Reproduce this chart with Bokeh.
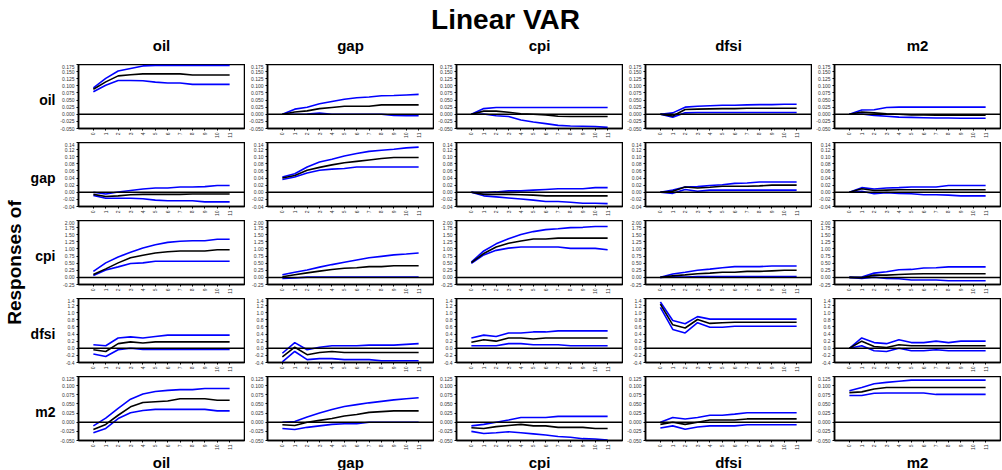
import numpy as np
from bokeh.plotting import figure
from bokeh.layouts import row, column
from bokeh.models import Span, FixedTicker, NumeralTickFormatter, Label, Range1d
from bokeh.embed import file_html
from bokeh.resources import INLINE

horizon = list(range(12))
variables = ["oil", "gap", "cpi", "dfsi", "m2"]
title_text = "Linear VAR"
side_text = "Responses of"

# ---- responses of oil (name: response_shock_band) ----
oil_oil_lo = [0.079, 0.102, 0.119, 0.119, 0.118, 0.113, 0.110, 0.110, 0.105, 0.105, 0.105, 0.105]
oil_oil_md = [0.088, 0.114, 0.135, 0.139, 0.142, 0.142, 0.142, 0.142, 0.138, 0.138, 0.138, 0.138]
oil_oil_hi = [0.093, 0.126, 0.152, 0.161, 0.170, 0.172, 0.172, 0.172, 0.172, 0.172, 0.172, 0.172]
oil_gap_lo = [0.0, 0.0, 0.001, 0.004, 0.0, 0.0, 0.0, 0.0, 0.0, -0.004, -0.005, -0.005]
oil_gap_md = [0.0, 0.008, 0.012, 0.020, 0.024, 0.028, 0.028, 0.028, 0.033, 0.033, 0.033, 0.033]
oil_gap_hi = [0.0, 0.018, 0.025, 0.037, 0.045, 0.053, 0.058, 0.061, 0.065, 0.066, 0.068, 0.070]
oil_cpi_lo = [0.0, 0.001, -0.005, -0.008, -0.020, -0.027, -0.033, -0.039, -0.041, -0.042, -0.043, -0.046]
oil_cpi_md = [0.0, 0.011, 0.011, 0.007, 0.002, 0.0, -0.002, -0.007, -0.008, -0.008, -0.008, -0.008]
oil_cpi_hi = [0.0, 0.020, 0.024, 0.024, 0.024, 0.024, 0.024, 0.024, 0.024, 0.024, 0.024, 0.024]
oil_dfsi_lo = [0.0, -0.010, 0.005, 0.006, 0.006, 0.006, 0.006, 0.006, 0.006, 0.006, 0.006, 0.006]
oil_dfsi_md = [0.0, -0.006, 0.017, 0.018, 0.019, 0.020, 0.020, 0.021, 0.021, 0.021, 0.021, 0.021]
oil_dfsi_hi = [0.0, 0.005, 0.025, 0.028, 0.030, 0.032, 0.032, 0.033, 0.034, 0.034, 0.035, 0.035]
oil_m2_lo = [0.0, 0.001, -0.004, -0.007, -0.010, -0.011, -0.012, -0.013, -0.013, -0.014, -0.014, -0.014]
oil_m2_md = [0.0, 0.008, 0.005, 0.002, 0.0, -0.002, -0.002, -0.003, -0.003, -0.003, -0.003, -0.003]
oil_m2_hi = [0.0, 0.015, 0.016, 0.024, 0.025, 0.025, 0.025, 0.025, 0.025, 0.025, 0.025, 0.025]

# ---- responses of gap ----
gap_oil_lo = [-0.009, -0.017, -0.017, -0.017, -0.018, -0.022, -0.024, -0.024, -0.024, -0.027, -0.027, -0.027]
gap_oil_md = [-0.006, -0.012, -0.010, -0.007, -0.006, -0.006, -0.006, -0.006, -0.005, -0.005, -0.005, -0.005]
gap_oil_hi = [0.0, -0.005, 0.001, 0.005, 0.009, 0.012, 0.012, 0.015, 0.015, 0.016, 0.019, 0.019]
gap_gap_lo = [0.036, 0.043, 0.054, 0.062, 0.065, 0.067, 0.071, 0.071, 0.071, 0.071, 0.071, 0.071]
gap_gap_md = [0.040, 0.047, 0.062, 0.070, 0.077, 0.083, 0.087, 0.091, 0.095, 0.098, 0.098, 0.098]
gap_gap_hi = [0.043, 0.052, 0.071, 0.085, 0.093, 0.102, 0.109, 0.115, 0.118, 0.121, 0.125, 0.127]
gap_cpi_lo = [0.0, -0.010, -0.013, -0.016, -0.019, -0.022, -0.026, -0.026, -0.028, -0.031, -0.031, -0.032]
gap_cpi_md = [0.0, -0.006, -0.006, -0.006, -0.007, -0.008, -0.010, -0.010, -0.010, -0.010, -0.010, -0.010]
gap_cpi_hi = [0.0, -0.001, 0.001, 0.004, 0.004, 0.006, 0.008, 0.010, 0.010, 0.010, 0.013, 0.013]
gap_dfsi_lo = [0.0, -0.003, 0.008, 0.003, 0.006, 0.006, 0.006, 0.006, 0.006, 0.006, 0.006, 0.006]
gap_dfsi_md = [0.0, 0.003, 0.015, 0.012, 0.014, 0.017, 0.017, 0.017, 0.018, 0.020, 0.020, 0.020]
gap_dfsi_hi = [0.0, 0.006, 0.015, 0.016, 0.019, 0.021, 0.025, 0.026, 0.029, 0.029, 0.029, 0.029]
gap_m2_lo = [0.0, 0.003, -0.004, -0.001, -0.003, -0.004, -0.007, -0.007, -0.008, -0.010, -0.010, -0.010]
gap_m2_md = [0.0, 0.010, 0.005, 0.006, 0.007, 0.007, 0.007, 0.007, 0.007, 0.007, 0.007, 0.007]
gap_m2_hi = [0.0, 0.013, 0.009, 0.012, 0.013, 0.015, 0.015, 0.015, 0.019, 0.019, 0.019, 0.019]

# ---- responses of cpi ----
cpi_oil_lo = [0.07, 0.26, 0.37, 0.49, 0.51, 0.57, 0.57, 0.57, 0.57, 0.57, 0.57, 0.57]
cpi_oil_md = [0.10, 0.30, 0.51, 0.69, 0.78, 0.86, 0.90, 0.93, 0.93, 0.93, 0.97, 0.97]
cpi_oil_hi = [0.21, 0.51, 0.72, 0.88, 1.03, 1.15, 1.23, 1.27, 1.29, 1.29, 1.34, 1.34]
cpi_gap_lo = [-0.04, -0.02, 0.01, 0.01, 0.01, 0.01, 0.01, 0.01, 0.01, 0.01, 0.01, 0.01]
cpi_gap_md = [0.02, 0.09, 0.16, 0.22, 0.28, 0.32, 0.34, 0.38, 0.38, 0.41, 0.41, 0.41]
cpi_gap_hi = [0.09, 0.18, 0.26, 0.36, 0.45, 0.53, 0.61, 0.69, 0.74, 0.79, 0.82, 0.86]
cpi_cpi_lo = [0.49, 0.79, 0.95, 1.03, 1.07, 1.07, 1.07, 1.07, 1.02, 1.02, 1.02, 0.97]
cpi_cpi_md = [0.52, 0.84, 1.07, 1.20, 1.28, 1.35, 1.35, 1.38, 1.38, 1.38, 1.38, 1.38]
cpi_cpi_hi = [0.54, 0.93, 1.18, 1.36, 1.51, 1.61, 1.68, 1.71, 1.75, 1.76, 1.79, 1.79]
cpi_dfsi_lo = [0.0, 0.02, 0.01, 0.03, 0.03, 0.03, 0.03, 0.03, 0.03, 0.03, 0.03, 0.03]
cpi_dfsi_md = [0.0, 0.06, 0.09, 0.13, 0.15, 0.18, 0.18, 0.21, 0.21, 0.23, 0.25, 0.25]
cpi_dfsi_hi = [0.0, 0.12, 0.18, 0.25, 0.29, 0.34, 0.38, 0.38, 0.38, 0.40, 0.40, 0.40]
cpi_m2_lo = [0.0, -0.04, 0.01, -0.04, -0.05, -0.09, -0.09, -0.09, -0.12, -0.12, -0.12, -0.12]
cpi_m2_md = [0.0, -0.01, 0.08, 0.08, 0.10, 0.12, 0.13, 0.13, 0.13, 0.13, 0.13, 0.13]
cpi_m2_hi = [0.0, 0.01, 0.15, 0.20, 0.27, 0.28, 0.33, 0.34, 0.37, 0.37, 0.37, 0.37]

# ---- responses of dfsi ----
dfsi_oil_lo = [-0.16, -0.23, -0.04, 0.0, -0.03, -0.03, -0.03, -0.03, -0.03, -0.03, -0.03, -0.03]
dfsi_oil_md = [-0.04, -0.09, 0.13, 0.18, 0.15, 0.18, 0.18, 0.18, 0.18, 0.18, 0.18, 0.18]
dfsi_oil_hi = [0.10, 0.07, 0.29, 0.32, 0.29, 0.33, 0.37, 0.37, 0.37, 0.37, 0.37, 0.37]
dfsi_gap_lo = [-0.38, -0.09, -0.32, -0.29, -0.29, -0.32, -0.32, -0.32, -0.35, -0.35, -0.35, -0.35]
dfsi_gap_md = [-0.24, 0.03, -0.18, -0.12, -0.09, -0.12, -0.12, -0.12, -0.12, -0.12, -0.12, -0.12]
dfsi_gap_hi = [-0.14, 0.16, -0.04, 0.03, 0.07, 0.07, 0.07, 0.09, 0.09, 0.09, 0.11, 0.13]
dfsi_cpi_lo = [0.07, 0.07, 0.07, 0.13, 0.13, 0.10, 0.10, 0.10, 0.07, 0.07, 0.07, 0.07]
dfsi_cpi_md = [0.17, 0.24, 0.20, 0.29, 0.29, 0.26, 0.29, 0.29, 0.29, 0.29, 0.29, 0.29]
dfsi_cpi_hi = [0.29, 0.37, 0.33, 0.43, 0.43, 0.46, 0.46, 0.49, 0.49, 0.49, 0.49, 0.49]
dfsi_dfsi_lo = [1.15, 0.53, 0.43, 0.72, 0.59, 0.59, 0.62, 0.62, 0.62, 0.62, 0.62, 0.62]
dfsi_dfsi_md = [1.24, 0.66, 0.57, 0.81, 0.70, 0.72, 0.73, 0.73, 0.73, 0.73, 0.73, 0.73]
dfsi_dfsi_hi = [1.30, 0.78, 0.69, 0.89, 0.82, 0.82, 0.82, 0.82, 0.82, 0.82, 0.82, 0.82]
dfsi_m2_lo = [0.0, 0.07, -0.07, -0.09, 0.0, -0.07, -0.07, -0.04, -0.07, -0.07, -0.07, -0.07]
dfsi_m2_md = [0.0, 0.20, 0.05, 0.02, 0.10, 0.07, 0.07, 0.07, 0.07, 0.07, 0.07, 0.07]
dfsi_m2_hi = [0.0, 0.29, 0.16, 0.13, 0.24, 0.16, 0.16, 0.20, 0.16, 0.20, 0.20, 0.20]

# ---- responses of m2 ----
m2_oil_lo = [-0.029, -0.017, 0.010, 0.026, 0.032, 0.035, 0.035, 0.035, 0.035, 0.035, 0.031, 0.031]
m2_oil_md = [-0.020, -0.006, 0.019, 0.042, 0.054, 0.056, 0.058, 0.064, 0.064, 0.064, 0.060, 0.060]
m2_oil_hi = [-0.010, 0.011, 0.038, 0.063, 0.077, 0.084, 0.087, 0.089, 0.089, 0.092, 0.092, 0.092]
m2_gap_lo = [-0.017, -0.020, -0.014, -0.010, -0.006, -0.004, -0.004, 0.0, 0.0, 0.0, 0.0, 0.0]
m2_gap_md = [-0.007, -0.009, 0.0, 0.005, 0.010, 0.017, 0.021, 0.027, 0.029, 0.031, 0.031, 0.031]
m2_gap_hi = [0.0, 0.002, 0.014, 0.025, 0.035, 0.043, 0.048, 0.053, 0.057, 0.061, 0.064, 0.067]
m2_cpi_lo = [-0.025, -0.031, -0.029, -0.026, -0.029, -0.032, -0.035, -0.039, -0.041, -0.045, -0.046, -0.049]
m2_cpi_md = [-0.015, -0.017, -0.012, -0.009, -0.006, -0.010, -0.010, -0.014, -0.014, -0.014, -0.017, -0.017]
m2_cpi_hi = [-0.010, -0.006, 0.0, 0.006, 0.013, 0.013, 0.013, 0.016, 0.016, 0.016, 0.016, 0.016]
m2_dfsi_lo = [-0.016, -0.010, -0.019, -0.013, -0.010, -0.010, -0.010, -0.007, -0.007, -0.007, -0.007, -0.007]
m2_dfsi_md = [-0.006, 0.0, -0.006, 0.0, 0.006, 0.006, 0.006, 0.009, 0.009, 0.009, 0.009, 0.009]
m2_dfsi_hi = [0.0, 0.013, 0.009, 0.013, 0.019, 0.019, 0.022, 0.026, 0.026, 0.026, 0.026, 0.026]
m2_m2_lo = [0.073, 0.073, 0.079, 0.080, 0.080, 0.080, 0.080, 0.076, 0.076, 0.076, 0.076, 0.076]
m2_m2_md = [0.081, 0.083, 0.091, 0.095, 0.095, 0.095, 0.095, 0.095, 0.095, 0.095, 0.095, 0.095]
m2_m2_hi = [0.086, 0.095, 0.105, 0.109, 0.112, 0.115, 0.115, 0.115, 0.115, 0.115, 0.115, 0.115]

# y-axis ticks per response row
oil_ticks = [-0.050, -0.025, 0.0, 0.025, 0.050, 0.075, 0.100, 0.125, 0.150, 0.175]
gap_ticks = [-0.04, -0.02, 0.0, 0.02, 0.04, 0.06, 0.08, 0.10, 0.12, 0.14]
cpi_ticks = [-0.25, 0.0, 0.25, 0.50, 0.75, 1.00, 1.25, 1.50, 1.75, 2.00]
dfsi_ticks = [-0.4, -0.2, 0.0, 0.2, 0.4, 0.6, 0.8, 1.0, 1.2, 1.4]
m2_ticks = [-0.050, -0.025, 0.0, 0.025, 0.050, 0.075, 0.100, 0.125]
tick_formats = {"oil": "0.000", "gap": "0.00", "cpi": "0.00", "dfsi": "0.0", "m2": "0.000"}

row_ticks = {"oil": oil_ticks, "gap": gap_ticks, "cpi": cpi_ticks, "dfsi": dfsi_ticks, "m2": m2_ticks}
G = globals()

FONT = "Liberation Sans Narrow, Arial Narrow, Liberation Sans, sans-serif"
BLUE = "#0000FF"
LEFT_W = 56
PANEL_W = 189
FRAME_W = 166
FRAME_H = 64
HEAD_H = 64
ROW_H = 78
LAST_BOTTOM = 470 - HEAD_H - 4 * ROW_H - FRAME_H


def make_panel(resp, shock, last_row):
    ticks = row_ticks[resp]
    p = figure(frame_width=FRAME_W, frame_height=FRAME_H,
               min_border_left=PANEL_W - FRAME_W - 1, min_border_right=1,
               min_border_top=0, min_border_bottom=LAST_BOTTOM if last_row else ROW_H - FRAME_H,
               x_range=Range1d(-1.2, 12.2), y_range=Range1d(ticks[0], ticks[-1]),
               output_backend="svg", toolbar_location=None)
    p.grid.visible = False
    p.outline_line_color = "black"
    p.outline_line_width = 1.5
    p.background_fill_color = "white"
    p.border_fill_color = "white"
    for ax in (p.xaxis[0], p.yaxis[0]):
        ax.axis_line_color = "black"
        ax.axis_line_width = 1.5
        ax.major_tick_in = 0
        ax.major_tick_out = 2
        ax.minor_tick_line_color = None
        ax.major_label_text_font_size = "5px"
        ax.major_label_text_color = "#333333"
        ax.major_label_standoff = 2
        ax.major_tick_line_color = "black"
    p.xaxis.ticker = FixedTicker(ticks=horizon)
    p.xaxis.major_label_orientation = np.pi / 2
    p.yaxis.ticker = FixedTicker(ticks=ticks)
    p.yaxis.formatter = NumeralTickFormatter(format=tick_formats[resp])
    if last_row:
        p.xaxis.axis_label = shock
        p.xaxis.axis_label_text_font_size = "15px"
        p.xaxis.axis_label_text_font_style = "bold"
        p.xaxis.axis_label_text_font = FONT
        p.xaxis.axis_label_text_color = "black"
        p.xaxis.axis_label_standoff = 1
    p.add_layout(Span(location=0, dimension="width", line_color="black", line_width=1.5))
    lo = G[f"{resp}_{shock}_lo"]
    md = G[f"{resp}_{shock}_md"]
    hi = G[f"{resp}_{shock}_hi"]
    p.line(horizon, hi, line_color=BLUE, line_width=1.6)
    p.line(horizon, lo, line_color=BLUE, line_width=1.6)
    p.line(horizon, md, line_color="black", line_width=1.6)
    return p


def blank(w, h, xr, yr):
    f = figure(width=w, height=h, x_range=Range1d(*xr), y_range=Range1d(*yr),
               x_axis_type=None, y_axis_type=None, output_backend="svg",
               toolbar_location=None, min_border=0)
    f.grid.visible = False
    f.outline_line_color = None
    f.background_fill_color = "white"
    f.border_fill_color = "white"
    return f


grid_w = PANEL_W * 5
head = blank(grid_w, HEAD_H, (0, grid_w), (0, HEAD_H))
head.add_layout(Label(x=505 - LEFT_W, y=HEAD_H - 19, text=title_text, text_align="center",
                      text_baseline="middle", text_font_size="28px", text_font_style="bold",
                      text_font=FONT, text_color="black"))
centers = [PANEL_W - FRAME_W - 1 + FRAME_W / 2 + PANEL_W * j for j in range(5)]
for j, name in enumerate(variables):
    head.add_layout(Label(x=centers[j], y=HEAD_H - 45, text=name, text_align="center",
                          text_baseline="middle", text_font_size="15px", text_font_style="bold",
                          text_font=FONT, text_color="black"))

rows = []
for i, resp in enumerate(variables):
    rows.append(row(*[make_panel(resp, shock, i == 4) for shock in variables], spacing=0))

left = blank(LEFT_W, 470, (0, LEFT_W), (0, 470))
left.add_layout(Label(x=14, y=470 - 262, text=side_text, text_align="center",
                      text_baseline="middle", angle=np.pi / 2, text_font_size="19px",
                      text_font_style="bold", text_font=FONT, text_color="black"))
for i, name in enumerate(variables):
    yc = HEAD_H + ROW_H * i + FRAME_H / 2 + 3
    left.add_layout(Label(x=LEFT_W - 1, y=470 - yc, text=name, text_align="right",
                          text_baseline="middle", text_font_size="14px", text_font_style="bold",
                          text_font=FONT, text_color="black"))

layout = row(left, column(head, *rows, spacing=0), spacing=0)

open("out.html", "w").write(file_html(layout, INLINE))
